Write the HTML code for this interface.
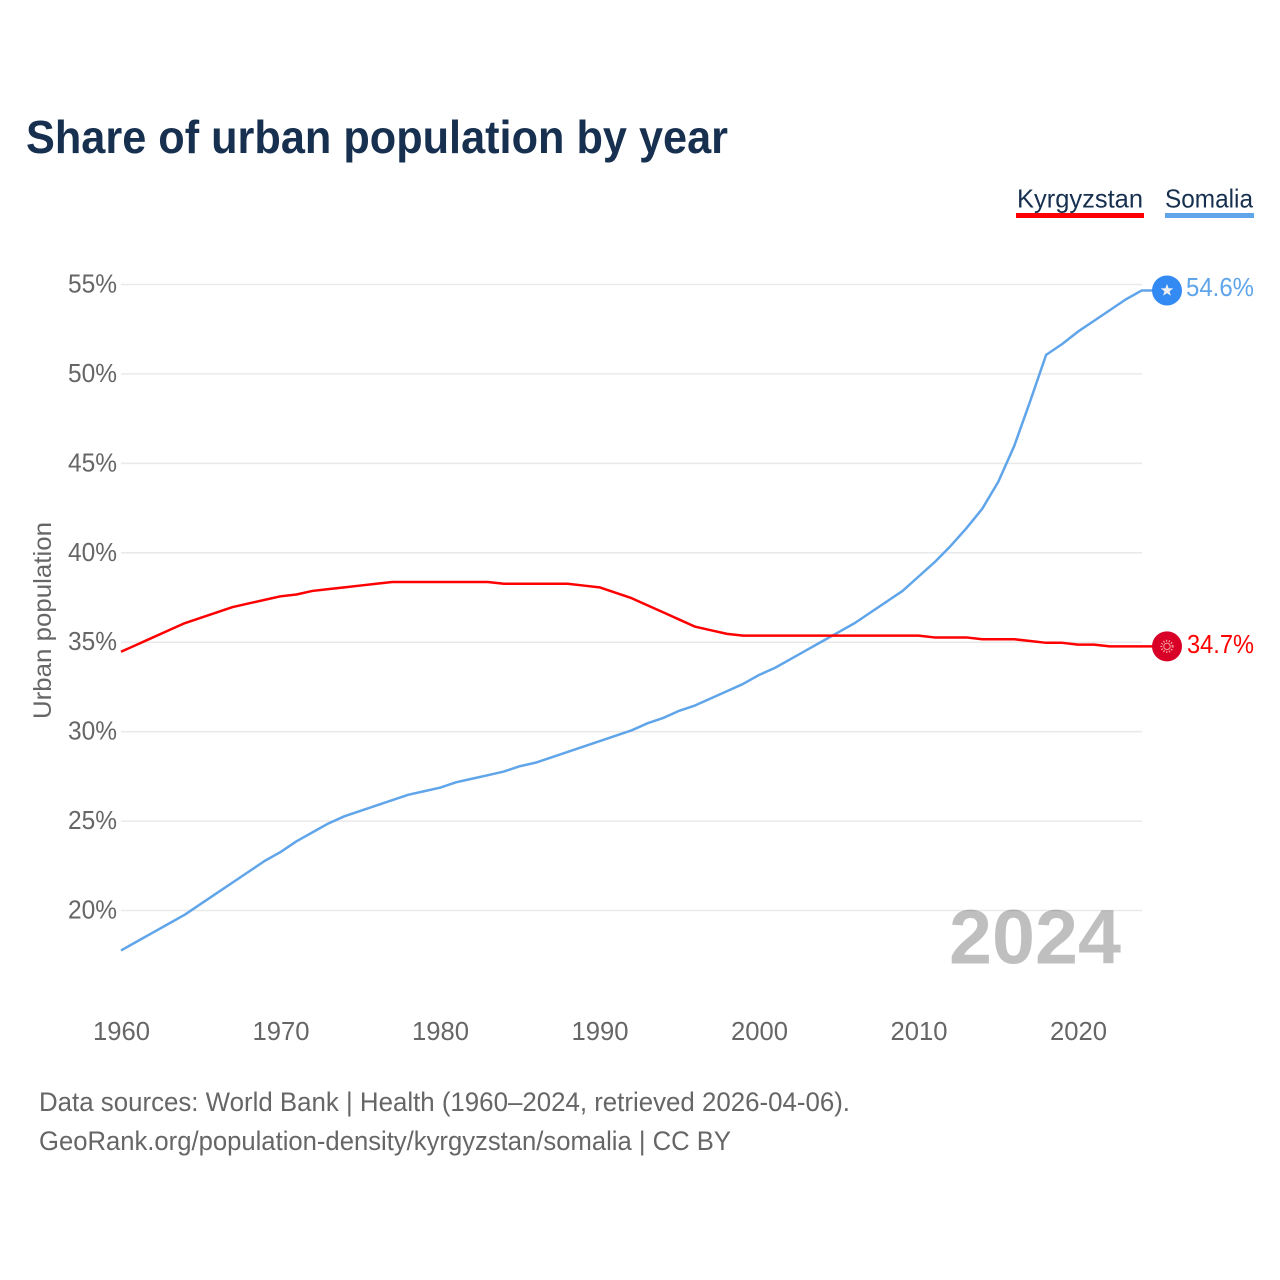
<!DOCTYPE html>
<html lang="en">
<head>
<meta charset="utf-8">
<title>Share of urban population by year</title>
<style>
html,body{margin:0;padding:0;background:#fff;width:1280px;height:1280px;overflow:hidden}
svg{display:block;font-family:"Liberation Sans",sans-serif}
</style>
</head>
<body>
<svg id="chart" width="1280" height="1280" viewBox="0 0 1280 1280" xmlns="http://www.w3.org/2000/svg">
  <rect x="0" y="0" width="1280" height="1280" fill="#fff"/>
  <text x="26" y="153" font-size="46" font-weight="700" fill="#17304f" textLength="702" lengthAdjust="spacingAndGlyphs">Share of urban population by year</text>

  <g>
    <text x="1017" y="207.5" font-size="26" fill="#17304f" textLength="126" lengthAdjust="spacingAndGlyphs">Kyrgyzstan</text>
    <rect x="1016" y="213" width="128" height="5" fill="#ff0000"/>
  </g>
  <g>
    <text x="1165" y="207.5" font-size="26" fill="#17304f" textLength="88" lengthAdjust="spacingAndGlyphs">Somalia</text>
    <rect x="1165" y="213" width="89" height="5" fill="#60a5ea"/>
  </g>

  <g id="grid"></g>
  <g id="yticks"></g>
  <g id="xticks"></g>
  <text transform="translate(51 719) rotate(-90)" x="0" y="0" font-size="25" fill="#666" textLength="197" lengthAdjust="spacingAndGlyphs">Urban population</text>

  <text x="949" y="963.5" font-size="77" font-weight="700" fill="#000" fill-opacity="0.25" textLength="172" lengthAdjust="spacingAndGlyphs">2024</text>

  <g id="series"></g>
  <g id="endpoints"></g>

  <text x="39" y="1111" font-size="27" fill="#666" textLength="811" lengthAdjust="spacingAndGlyphs">Data sources: World Bank | Health (1960–2024, retrieved 2026-04-06).</text>
  <text x="39" y="1150" font-size="27" fill="#666" textLength="692" lengthAdjust="spacingAndGlyphs">GeoRank.org/population-density/kyrgyzstan/somalia | CC BY</text>
</svg>
<script>
const startYear = 1960;
const kyrgyzstanValues = [34.5,34.9,35.3,35.7,36.1,36.4,36.7,37.0,37.2,37.4,37.6,37.7,37.9,38.0,38.1,38.2,38.3,38.4,38.4,38.4,38.4,38.4,38.4,38.4,38.3,38.3,38.3,38.3,38.3,38.2,38.1,37.8,37.5,37.1,36.7,36.3,35.9,35.7,35.5,35.4,35.4,35.4,35.4,35.4,35.4,35.4,35.4,35.4,35.4,35.4,35.4,35.3,35.3,35.3,35.2,35.2,35.2,35.1,35.0,35.0,34.9,34.9,34.8,34.8,34.8];
const somaliaValues = [17.8,18.3,18.8,19.3,19.8,20.4,21.0,21.6,22.2,22.8,23.3,23.9,24.4,24.9,25.3,25.6,25.9,26.2,26.5,26.7,26.9,27.2,27.4,27.6,27.8,28.1,28.3,28.6,28.9,29.2,29.5,29.8,30.1,30.5,30.8,31.2,31.5,31.9,32.3,32.7,33.2,33.6,34.1,34.6,35.1,35.6,36.1,36.7,37.3,37.9,38.7,39.5,40.4,41.4,42.5,44.0,46.0,48.5,51.1,51.7,52.4,53.0,53.6,54.2,54.7];
const yTickValues = [20,25,30,35,40,45,50,55];
const yTickLabels = ["20%","25%","30%","35%","40%","45%","50%","55%"];
const xTickValues = [1960,1970,1980,1990,2000,2010,2020];
const xTickLabels = ["1960","1970","1980","1990","2000","2010","2020"];
const kyrgyzstanEndLabel = "34.7%";
const somaliaEndLabel = "54.6%";

const NS = "http://www.w3.org/2000/svg";
const markerX = 1167;
function xScale(year) { return 121 + (year - 1960) * 15.95; }
function yScale(value) { return 910.5 - (value - 20) * 17.886; }
function seriesY(value) { return yScale(value) + 0.6; }
function make(tag, attrs, parent) {
  const el = document.createElementNS(NS, tag);
  for (const k in attrs) el.setAttribute(k, attrs[k]);
  parent.appendChild(el);
  return el;
}

const gridGroup = document.getElementById("grid");
const yGroup = document.getElementById("yticks");
const xGroup = document.getElementById("xticks");
const seriesGroup = document.getElementById("series");
const endGroup = document.getElementById("endpoints");

yTickValues.forEach(function (v, i) {
  const y = yScale(v);
  const line = make("line", {x1: 121, x2: 1142, y1: y, y2: y, stroke: "#e9e9e9", "stroke-width": 1.5}, gridGroup);
  
  
  const t = make("text", {x: 68, y: y + 8, "font-size": 25.5, fill: "#666", textLength: 49, lengthAdjust: "spacingAndGlyphs"}, yGroup);
  
  
  t.textContent = yTickLabels[i];
});

xTickValues.forEach(function (v, i) {
  const t = make("text", {x: xScale(v) - 28, y: 1040, "font-size": 25.5, fill: "#666", textLength: 57, lengthAdjust: "spacingAndGlyphs"}, xGroup);
  
  
  t.textContent = xTickLabels[i];
});

function pathFor(values) {
  const last = values.length - 1;
  const d = values.map(function (v, i) {
    return (i ? "L" : "M") + xScale(startYear + i).toFixed(2) + " " + seriesY(v).toFixed(2);
  }).join(" ");
  return d + " L" + markerX + " " + seriesY(values[last]).toFixed(2);
}

const somaliaLine = make("path", {d: pathFor(somaliaValues), fill: "none", stroke: "#60a5ea", "stroke-width": 2.5, "stroke-linejoin": "round"}, seriesGroup);


const kyrgyzstanLine = make("path", {d: pathFor(kyrgyzstanValues), fill: "none", stroke: "#ff0000", "stroke-width": 2.5, "stroke-linejoin": "round"}, seriesGroup);



const somaliaY = seriesY(somaliaValues[somaliaValues.length - 1]);
const kyrgyzstanY = seriesY(kyrgyzstanValues[kyrgyzstanValues.length - 1]);

const somaliaFlag = make("circle", {cx: markerX, cy: somaliaY, r: 15, fill: "#338af3"}, endGroup);


const star = [];
for (let i = 0; i < 10; i++) {
  const r = i % 2 ? 2.7 : 6.6;
  const a = -Math.PI / 2 + i * Math.PI / 5;
  star.push((markerX + r * Math.cos(a)).toFixed(2) + "," + (somaliaY + r * Math.sin(a)).toFixed(2));
}
const somaliaStar = make("polygon", {points: star.join(" "), fill: "#f0f0f0"}, endGroup);


const somaliaText = make("text", {x: 1186, y: somaliaY + 5.5, "font-size": 25.5, fill: "#60a5ea", textLength: 68, lengthAdjust: "spacingAndGlyphs"}, endGroup);


somaliaText.textContent = somaliaEndLabel;

const kyrgyzstanFlag = make("circle", {cx: markerX, cy: kyrgyzstanY, r: 15, fill: "#d80027"}, endGroup);


const sunDisc = make("circle", {cx: markerX, cy: kyrgyzstanY, r: 3.2, fill: "none", stroke: "#f5a0a0", "stroke-width": 1}, endGroup);


const sunRays = make("circle", {cx: markerX, cy: kyrgyzstanY, r: 5.6, fill: "none", stroke: "#f5a0a0", "stroke-width": 2, "stroke-dasharray": "1.2 1.6"}, endGroup);


const kyrgyzstanText = make("text", {x: 1187, y: kyrgyzstanY + 6.5, "font-size": 25.5, fill: "#ff0000", textLength: 67, lengthAdjust: "spacingAndGlyphs"}, endGroup);


kyrgyzstanText.textContent = kyrgyzstanEndLabel;
</script>
</body>
</html>
